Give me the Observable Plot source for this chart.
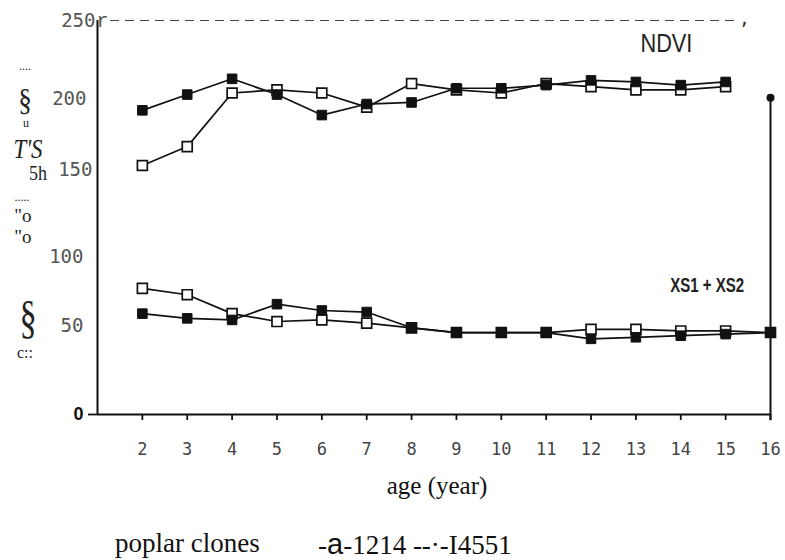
<!DOCTYPE html>
<html><head><meta charset="utf-8">
<script src="https://cdn.jsdelivr.net/npm/d3@7"></script>
<script src="https://cdn.jsdelivr.net/npm/@observablehq/plot@0.6"></script>
<style>
body{margin:0;background:#fff;}
#wrap{position:relative;width:785px;height:560px;background:#fff;overflow:hidden;}
#wrap svg{position:absolute;left:0;top:0;}
.g{position:absolute;font-family:"Liberation Serif",serif;color:#222;white-space:nowrap;line-height:1;}
.leg{position:absolute;font-family:"Liberation Serif",serif;font-size:27px;color:#111;white-space:nowrap;line-height:1;}
</style></head><body><div id="wrap"></div>
<script>
// ages (years)
const ndviAges = [2,3,4,5,6,7,8,9,10,11,12,13,14,15];
const ndvi1214 = [158,170,204,206,204,195,210,206,204,210,208,206,206,208];
const ndvi4551 = [193,203,213,203,190,197,198,207,207,209,212,211,209,211];
const xsAges = [2,3,4,5,6,7,8,9,10,11,12,13,14,15,16];
const xs1214 = [80,76,64,59,60,58,55,52,52,52,54,54,53,53,52];
const xs4551 = [64,61,60,70,66,65,55,52,52,52,48,49,50,51,52];
const xTicks = [2,3,4,5,6,7,8,9,10,11,12,13,14,15,16];
const endMarker = [201];

const rows = [];
ndviAges.forEach((a,i)=>{rows.push({age:a,v:ndvi1214[i],clone:"1214",key:"ndvi-1214"});rows.push({age:a,v:ndvi4551[i],clone:"I4551",key:"ndvi-4551"});});
xsAges.forEach((a,i)=>{rows.push({age:a,v:xs1214[i],clone:"1214",key:"xs-1214"});rows.push({age:a,v:xs4551[i],clone:"I4551",key:"xs-4551"});});
const openRows = rows.filter(d=>d.clone==="1214");
const fillRows = rows.filter(d=>d.clone==="I4551");

const mono = "DejaVu Sans Mono, monospace";
const sans = "Liberation Sans, Arial, sans-serif";
const yAxisOpts = {tickSize:0,fontSize:19,fontFamily:mono,fill:"#555"};
const chart = Plot.plot({
  width:785, height:500,
  marginLeft:97, marginRight:15, marginTop:20, marginBottom:86,
  x:{domain:[1,16]},
  y:{domain:[0,250]},
  style:{background:"white", color:"#111"},
  marks:[
    Plot.ruleY([250],{x1:1.29,x2:15.22,stroke:"#444",strokeWidth:1,strokeDasharray:"9,6"}),
    Plot.text([","],{x:[15.42],y:[250],fontSize:18,fontFamily:mono,fill:"#333",dy:-1}),
    Plot.text(["r"],{x:[1],y:[250],dx:5,fontSize:20,fontFamily:"Liberation Mono, monospace",fill:"#555"}),
    Plot.line(rows,{x:"age",y:"v",z:"key",stroke:"#111",strokeWidth:1.7}),
    Plot.dot(openRows,{x:"age",y:"v",symbol:"square",r:5.6,fill:"white",stroke:"#111",strokeWidth:1.7}),
    Plot.dot(fillRows,{x:"age",y:"v",symbol:"square",r:5.4,fill:"#111",stroke:"#111",strokeWidth:1}),
    Plot.ruleX([16],{y1:-4,y2:endMarker[0],stroke:"#111",strokeWidth:2}),
    Plot.dot(endMarker,{x:()=>16,y:d=>d,r:4,fill:"#111"}),
    Plot.ruleY([0],{stroke:"#111",strokeWidth:2}),
    Plot.ruleX([1],{stroke:"#111",strokeWidth:2}),
    Plot.axisX(xTicks,{tickSize:6,tickPadding:22,fontSize:17,fontFamily:mono,fill:"#444",strokeWidth:1.8}),
    Plot.axisY([250],{...yAxisOpts,tickPadding:2}),
    Plot.axisY([200],{...yAxisOpts,tickPadding:11}),
    Plot.axisY([150],{...yAxisOpts,tickPadding:5,dy:-8}),
    Plot.axisY([100],{...yAxisOpts,tickPadding:14}),
    Plot.axisY([50],{...yAxisOpts,tickPadding:14,dy:-10}),
    Plot.axisY([0],{tickSize:9,tickPadding:5,fontSize:18,fontWeight:"bold",fontFamily:sans,fill:"#111",strokeWidth:1.8}),
    Plot.text([{x:13.68,y:234.8,t:"NDVI"}],{x:"x",y:"y",text:"t",fontSize:25,fontFamily:sans,fill:"#222"}),
    Plot.text([{x:14.59,y:81.9,t:"XS1 + XS2"}],{x:"x",y:"y",text:"t",fontSize:21,fontWeight:"600",fontFamily:sans,fill:"#222"}),
    Plot.text(["age (year)"],{frameAnchor:"bottom",dy:79,dx:3,fontSize:25,fontFamily:"Liberation Serif, serif",fill:"#111"})
  ]
});
const wrap = document.getElementById("wrap");
wrap.appendChild(chart);
// condensed look of the scanned labels
const squeeze = {"NDVI":52, "XS1 + XS2":74};
d3.select(chart).selectAll("text").filter(function(){return this.textContent in squeeze;})
  .each(function(){d3.select(this).attr("textLength",squeeze[this.textContent]).attr("lengthAdjust","spacingAndGlyphs");});

// garbled axis title glyphs from the scanned source
const glyphs = [
  {t:"....",x:25,y:66,s:12},
  {t:"§",x:25,y:100,s:32,sx:0.85},
  {t:"u",x:26,y:123,s:12},
  {t:"T'S",x:28,y:149,s:27,i:true,sx:0.85},
  {t:"5h",x:38,y:173,s:20,sx:0.9},
  {t:".....",x:22,y:197,s:12},
  {t:"\"o",x:23,y:215,s:19},
  {t:"\"o",x:23,y:236,s:19},
  {t:"§",x:28,y:318,s:46,sx:0.75},
  {t:"c::",x:25,y:353,s:16}
];
glyphs.forEach(g=>{
  const s=document.createElement("span");
  s.className="g"; s.textContent=g.t;
  s.style.left=g.x+"px"; s.style.top=g.y+"px"; s.style.fontSize=g.s+"px";
  s.style.transform="translate(-50%,-50%) scaleX("+(g.sx||1)+")";
  if(g.i) s.style.fontStyle="italic";
  wrap.appendChild(s);
});
const l1=document.createElement("div");
l1.className="leg"; l1.textContent="poplar clones"; l1.style.left="115px"; l1.style.top="530px";
wrap.appendChild(l1);
const l2=document.createElement("div");
l2.className="leg"; l2.style.left="318px"; l2.style.top="530px";
l2.innerHTML='-<span style="font-family:Liberation Sans,sans-serif;font-size:29px">a</span>-1214 --·-I4551';
wrap.appendChild(l2);
</script></body></html>
